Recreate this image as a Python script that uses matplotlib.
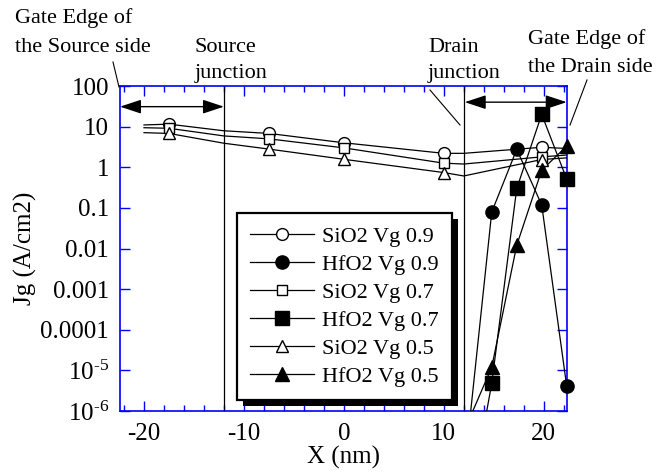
import numpy as np
import matplotlib
matplotlib.use("Agg")
import matplotlib.pyplot as plt
from matplotlib.lines import Line2D
from matplotlib.patches import Rectangle
from matplotlib.ticker import MultipleLocator, LogLocator, NullFormatter

plt.rcParams['font.family'] = ['Liberation Serif', 'DejaVu Serif']
plt.rcParams['mathtext.fontset'] = 'custom'
plt.rcParams['mathtext.rm'] = 'Liberation Serif'
plt.rcParams['mathtext.it'] = 'Liberation Serif:italic'
plt.rcParams['axes.unicode_minus'] = False

# SiO2 curves: line points and marker points
sio2_line_x = [-20, -17.5, -12, -7.5, 0, 10, 12, 19.8, 22.3]
sio2_09_line = [11.0, 11.5, 7.9, 6.8, 4.0, 2.2, 2.2, 3.1, 2.9]
sio2_07_line = [9.4, 9.1, 5.9, 5.0, 3.0, 1.26, 1.2, 1.8, 2.0]
sio2_05_line = [7.1, 6.8, 3.9, 2.8, 1.57, 0.74, 0.61, 1.55, 1.7]
sio2_mark_idx = [1, 3, 4, 5, 7]

# HfO2 curves
hfo2_x = [12.3, 14.8, 17.3, 19.8, 22.3]
hfo2_09 = [1.2e-7, 0.079, 2.76, 0.118, 4.1e-6]
hfo2_07 = [1.9e-9, 4.8e-6, 0.30, 20.0, 0.51]
hfo2_05 = [4.5e-7, 1.2e-5, 0.012, 0.85, 3.3]
hfo2_mark_idx = [1, 2, 3, 4]

labels = ['SiO2 Vg 0.9', 'HfO2 Vg 0.9', 'SiO2 Vg 0.7',
          'HfO2 Vg 0.7', 'SiO2 Vg 0.5', 'HfO2 Vg 0.5']

yticks = [1e2, 1e1, 1, 0.1, 0.01, 0.001, 0.0001, 1e-5, 1e-6]
ytick_labels = ['100', '10', '1', '0.1', '0.01', '0.001', '0.0001',
                r'$10^{\text{-}5}$', r'$10^{\text{-}6}$']

W, H = 664, 473
fig = plt.figure(figsize=(W / 100, H / 100), dpi=100)
ax = fig.add_axes([120 / W, 1 - 411 / H, 446.7 / W, 325 / H])

lw = 0.9
styles = [
    (sio2_line_x, sio2_09_line, sio2_mark_idx, 'o', 'white', 8.5),
    (hfo2_x, hfo2_09, hfo2_mark_idx, 'o', 'black', 9.5),
    (sio2_line_x, sio2_07_line, sio2_mark_idx, 's', 'white', 7.5),
    (hfo2_x, hfo2_07, hfo2_mark_idx, 's', 'black', 9.5),
    (sio2_line_x, sio2_05_line, sio2_mark_idx, '^', 'white', 8.5),
    (hfo2_x, hfo2_05, hfo2_mark_idx, '^', 'black', 9.5),
]
handles = []
for (xs, ys, idx, m, fc, ms), lab in zip(styles, labels):
    ax.plot(xs, ys, color='black', lw=lw, zorder=3)
    mx = [xs[i] for i in idx]
    my = [ys[i] for i in idx]
    ax.plot(mx, my, ls='none', marker=m, mfc=fc, mec='black', mew=1.0,
            ms=ms, zorder=4, clip_on=False)
    handles.append(Line2D([], [], color='black', lw=lw, marker=m, mfc=fc,
                          mec='black', mew=1.0, ms=ms))

ax.set_yscale('log')
ax.set_xlim(-22.4, 22.3)
ax.set_ylim(1e-6, 100)

# junction lines
ax.axvline(-12, color='black', lw=0.9, zorder=2)
ax.axvline(12, color='black', lw=0.9, zorder=2)

# double arrows for gate-edge regions
arr = dict(arrowstyle='<|-|>, head_length=1.0, head_width=0.33',
           color='black', lw=1.0, mutation_scale=13, shrinkA=0, shrinkB=0)
ax.annotate('', xy=(-22.4, 31), xytext=(-12, 31), arrowprops=arr,
            annotation_clip=False)
ax.annotate('', xy=(12.1, 40), xytext=(22.3, 40), arrowprops=arr,
            annotation_clip=False)

ax.set_xticks([-20, -10, 0, 10, 20])
ax.xaxis.set_minor_locator(MultipleLocator(2))
ax.set_yticks(yticks)
ax.set_yticklabels(ytick_labels)
ax.yaxis.set_minor_locator(LogLocator(base=10, subs=np.arange(2, 10)))
ax.yaxis.set_minor_formatter(NullFormatter())

ax.tick_params(which='both', direction='in', top=True, right=True,
               color='blue', width=1.0, labelsize=18)
ax.tick_params(which='major', length=7)
ax.tick_params(which='minor', length=4)
ax.tick_params(axis='x', pad=9)
ax.tick_params(axis='y', pad=8)
for s in ax.spines.values():
    s.set_color('blue')
    s.set_linewidth(1.2)

ax.set_xlabel('X (nm)', fontsize=18, labelpad=0)
ax.set_ylabel('Jg (A/cm2)', fontsize=18, labelpad=2)

leg = ax.legend(handles, labels, loc='upper left',
                bbox_to_anchor=(236.7 / W, 1 - 213.3 / H),
                bbox_transform=fig.transFigure, fontsize=16,
                fancybox=False, edgecolor='black', framealpha=1,
                handlelength=2.9, labelspacing=0.33, borderpad=0.6,
                handletextpad=0.35, borderaxespad=0)
leg.get_frame().set_linewidth(1.6)
leg.set_zorder(6)

# shadow behind legend
fig.canvas.draw()
bb = leg.get_window_extent().transformed(fig.transFigure.inverted())
off = 6
ax.add_patch(Rectangle((bb.x0 + off / W, bb.y0 - off / H), bb.width, bb.height,
                       transform=fig.transFigure, facecolor='black',
                       edgecolor='none', zorder=5.5, clip_on=False))

# annotation texts
def ftext(x, y, s):
    fig.text(x / W, 1 - y / H, s, fontsize=16, va='baseline', ha='left')

ftext(15, 23, 'Gate Edge of')
ftext(15, 52, 'the Source side')
ftext(195, 52, 'Source')
ftext(195, 78, 'junction')
ftext(428, 52, 'Drain')
ftext(428, 78, 'junction')
ftext(528, 44, 'Gate Edge of')
ftext(528, 72, 'the Drain side')

def fline(x0, y0, x1, y1):
    fig.add_artist(Line2D([x0 / W, x1 / W], [1 - y0 / H, 1 - y1 / H],
                          color='black', lw=0.8))

fline(113, 62, 119, 87)
fline(430, 90, 460, 125)
fline(587, 80, 570, 125)

fig.savefig('out.png', dpi=100)
